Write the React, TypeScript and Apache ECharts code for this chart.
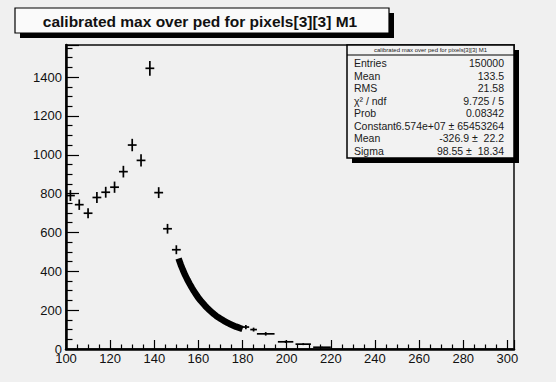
import React, { useEffect, useRef } from "react";
import * as echarts from "echarts";

// Coarse bins (center, content, half-width, error)
const coarseX = [102, 106, 110, 114, 118, 122, 126, 130, 134, 138, 142, 146, 150];
const coarseY = [790, 743, 699, 780, 807, 833, 913, 1050, 971, 1445, 805, 619, 511];
const coarseErr = [28, 27, 26, 28, 28, 29, 30, 32, 31, 38, 28, 25, 23];
const coarseHalf = [2, 2, 2, 2, 2, 2, 2, 2, 2, 2, 2, 2, 2];

// Tail bins
const tailX = [181.5, 185, 190.5, 199.5, 207.5, 216];
const tailY = [113, 100, 78, 37, 25, 9];
const tailErr = [11, 10, 9, 6, 5, 3];
const tailHalf = [1.5, 1.5, 4, 3.5, 3.5, 4];

// Dense region (151..180)
const curveX = [151, 152, 153, 154, 155, 156, 157, 158, 159, 160, 161, 162, 163, 164, 165, 166, 167, 168, 169, 170, 171, 172, 173, 174, 175, 176, 177, 178, 179, 180];
const curveY = [466, 434, 406, 380, 357, 336, 316, 297, 280, 263, 249, 236, 223, 211, 200, 190, 180, 171, 163, 156, 149, 142, 136, 130, 125, 120, 115, 111, 107, 103];

const xTicks = [100, 120, 140, 160, 180, 200, 220, 240, 260, 280, 300];
const yTicks = [0, 200, 400, 600, 800, 1000, 1200, 1400];

const statLabels = ["Entries", "Mean", "RMS", "χ² / ndf", "Prob", "Constant", "Mean", "Sigma"];
const statValues = ["150000", "133.5", "21.58", "9.725 / 5", "0.08342", "6.574e+07 ± 65453264", "-326.9 ±  22.2", "98.55 ±  18.34"];

const TITLE = "calibrated max over ped for pixels[3][3] M1";
const FONT = "'Liberation Sans', Arial, Helvetica, sans-serif";

export default function App() {
  const ref = useRef<HTMLDivElement>(null);
  useEffect(() => {
    document.body.style.margin = "0";
    const chart = echarts.init(ref.current!, null, { renderer: "svg" });
    const crossData = [
      ...coarseX.map((x, i) => [x, coarseY[i], coarseHalf[i], coarseErr[i]]),
      ...tailX.map((x, i) => [x, tailY[i], tailHalf[i], tailErr[i]]),
    ];
    const statGraphics: any[] = [];
    const sx = 347, sy = 45, sw = 167, sh = 113;
    statGraphics.push({ type: "rect", shape: { x: sx + 5, y: sy + 5, width: sw, height: sh }, style: { fill: "#000" }, z: 100 });
    statGraphics.push({ type: "rect", shape: { x: sx, y: sy, width: sw, height: sh }, style: { fill: "#f2f2f2", stroke: "#000", lineWidth: 1.5 }, z: 101 });
    statGraphics.push({ type: "line", shape: { x1: sx, y1: 55, x2: sx + sw, y2: 55 }, style: { stroke: "#000", lineWidth: 1 }, z: 102 });
    statGraphics.push({ type: "text", x: sx + sw / 2, y: 50, style: { text: TITLE, fontSize: 6, fontFamily: FONT, fill: "#222", align: "center", verticalAlign: "middle" }, z: 102 });
    statLabels.forEach((l, i) => {
      const y = 63 + i * 12.5;
      statGraphics.push({ type: "text", x: 354, y, style: { text: l, fontSize: 10.5, fontFamily: FONT, fill: "#1a1a1a", align: "left", verticalAlign: "middle" }, z: 102 });
      statGraphics.push({ type: "text", x: 504, y, style: { text: statValues[i], fontSize: 10.5, fontFamily: FONT, fill: "#1a1a1a", align: "right", verticalAlign: "middle" }, z: 102 });
    });

    chart.setOption({
      animation: false,
      backgroundColor: "#f0f0f0",
      grid: { left: 66, right: 42, top: 45, bottom: 33, show: true, borderColor: "#444", borderWidth: 2, backgroundColor: "#f0f0f0" },
      xAxis: {
        type: "value",
        min: 100,
        max: 303,
        interval: 20,
        axisLine: { show: true, onZero: false, lineStyle: { color: "#000", width: 2.5 } },
        axisTick: { show: true, inside: true, length: 9, lineStyle: { color: "#000", width: 1.2 } },
        minorTick: { show: true, splitNumber: 4, length: 4.5, lineStyle: { color: "#000", width: 1.2 } },
        splitLine: { show: false },
        axisLabel: { color: "#111", fontSize: 13, fontFamily: FONT, margin: 3, showMaxLabel: false, formatter: (v: number) => (xTicks.includes(v) ? String(v) : "") },
      },
      yAxis: {
        type: "value",
        min: 0,
        max: 1565,
        interval: 200,
        axisLine: { show: true, onZero: false, lineStyle: { color: "#000", width: 2.5 } },
        axisTick: { show: true, inside: true, length: 13, lineStyle: { color: "#000", width: 1.2 } },
        minorTick: { show: true, splitNumber: 4, length: 6.5, lineStyle: { color: "#000", width: 1.2 } },
        splitLine: { show: false },
        axisLabel: { color: "#111", fontSize: 13, fontFamily: FONT, margin: 4, showMaxLabel: false, formatter: (v: number) => (yTicks.includes(v) ? String(v) : "") },
      },
      series: [
        {
          type: "line",
          data: curveX.map((x, i) => [x, curveY[i]]),
          showSymbol: false,
          lineStyle: { color: "#000", width: 6.5 },
          z: 3,
        },
        {
          type: "custom",
          data: crossData,
          encode: { x: 0, y: 1 },
          z: 4,
          renderItem: (params: any, api: any) => {
            const x = api.value(0), y = api.value(1), hw = api.value(2), e = api.value(3);
            const l = api.coord([x - hw, y]);
            const r = api.coord([x + hw, y]);
            const t = api.coord([x, y + e]);
            const b = api.coord([x, Math.max(0, y - e)]);
            return {
              type: "group",
              children: [
                { type: "line", shape: { x1: l[0], y1: l[1], x2: r[0], y2: r[1] }, style: { stroke: "#000", lineWidth: 1.7 } },
                { type: "line", shape: { x1: t[0], y1: t[1], x2: b[0], y2: b[1] }, style: { stroke: "#000", lineWidth: 1.7 } },
              ],
            };
          },
        },
      ],
      graphic: [
        { type: "rect", shape: { x: 20, y: 13, width: 374, height: 25 }, style: { fill: "#000" }, z: 100 },
        { type: "rect", shape: { x: 15, y: 8, width: 374, height: 25 }, style: { fill: "#fafafa", stroke: "#000", lineWidth: 1.2 }, z: 101 },
        { type: "text", x: 200, y: 21, style: { text: TITLE, fontSize: 15.5, fontWeight: "bold", fontFamily: FONT, fill: "#111", align: "center", verticalAlign: "middle" }, z: 102 },
        ...statGraphics,
      ],
    });
    return () => chart.dispose();
  }, []);
  return <div ref={ref} style={{ width: 556, height: 382 }} />;
}
